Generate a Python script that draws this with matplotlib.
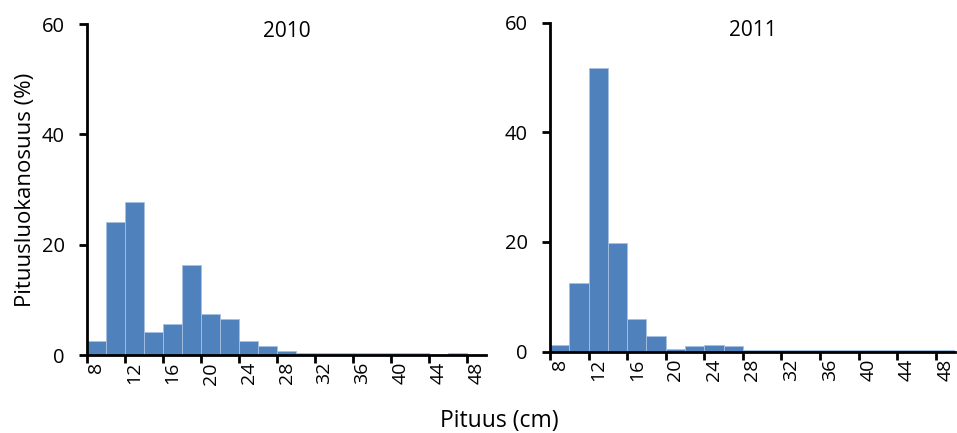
import matplotlib.pyplot as plt
from matplotlib.ticker import FixedLocator, NullFormatter, FixedFormatter

plt.rcParams['font.family'] = ['Open Sans', 'DejaVu Sans']

# pituusluokat (cm), 2 cm välein
pituus = list(range(8, 50, 2))
osuus_2010 = [2.5, 24.1, 27.8, 4.1, 5.7, 16.4, 7.4, 6.5, 2.5, 1.6, 0.7,
              0.3, 0.3, 0.3, 0.3, 0.3, 0.3, 0.3, 0.0, 0.3, 0.0]
osuus_2011 = [1.3, 12.5, 51.8, 19.9, 6.0, 2.9, 0.4, 1.0, 1.3, 1.0, 0.3,
              0.3, 0.3, 0.3, 0.3, 0.3, 0.3, 0.3, 0.3, 0.3, 0.3]
vuodet = ['2010', '2011']
y_ticks = [0, 20, 40, 60]

fig = plt.figure(figsize=(9.57, 4.33), dpi=100)
ax1 = fig.add_axes([0.0909, 0.180, 0.417, 0.7644])
ax2 = fig.add_axes([0.5747, 0.1878, 0.4232, 0.760])

for ax, data, vuosi in zip([ax1, ax2], [osuus_2010, osuus_2011], vuodet):
    idx = list(range(len(pituus)))
    ax.bar(idx, data, width=1.0, align='edge', color='#4F81BD',
           edgecolor='#a9c1e0', linewidth=0.6)
    ax.set_xlim(0, len(pituus))
    ax.set_ylim(0, 60)
    ax.set_yticks(y_ticks)
    ax.spines['top'].set_visible(False)
    ax.spines['right'].set_visible(False)
    ax.spines['left'].set_linewidth(2)
    ax.spines['bottom'].set_linewidth(2)
    # tikit luokkien väliin, nimet luokkien keskelle
    ax.xaxis.set_major_locator(FixedLocator(idx[::2]))
    ax.xaxis.set_major_formatter(NullFormatter())
    ax.xaxis.set_minor_locator(FixedLocator([i + 0.5 for i in idx[::2]]))
    ax.xaxis.set_minor_formatter(FixedFormatter([str(p) for p in pituus[::2]]))
    ax.tick_params(axis='x', which='major', direction='out', length=6, width=2)
    ax.tick_params(axis='x', which='minor', length=0, pad=5, labelsize=14,
                   labelrotation=90)
    ax.tick_params(axis='y', direction='out', length=6, width=2, pad=10,
                   labelsize=14.5)
    ax.set_title(vuosi, fontsize=15, y=0.935)

ax1.set_ylabel('Pituusluokanosuus (%)', fontsize=16, labelpad=4)
fig.text(0.522, 0.015, 'Pituus (cm)', ha='center', fontsize=16.5)

plt.savefig('out.png', dpi=100)
